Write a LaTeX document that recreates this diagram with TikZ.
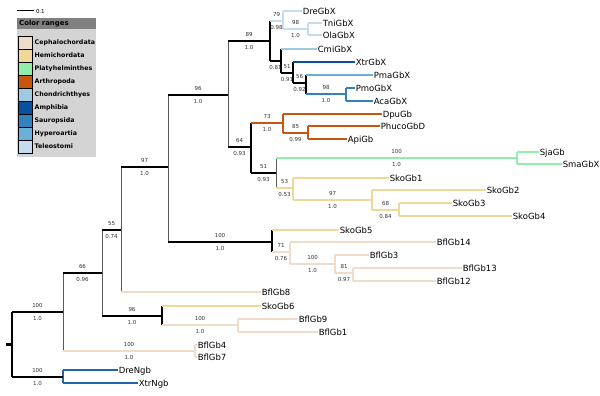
\documentclass[tikz,border=0pt]{standalone}
\usepackage{fontspec}
\setmainfont{DejaVu Sans}
\usetikzlibrary{calc}
\definecolor{ceph}{HTML}{EFDCC9}
\definecolor{hemi}{HTML}{EFD898}
\definecolor{platy}{HTML}{90EEA8}
\definecolor{arth}{HTML}{C8560F}
\definecolor{chon}{HTML}{9ECAE1}
\definecolor{amph}{HTML}{08519C}
\definecolor{saur}{HTML}{3182BD}
\definecolor{hyper}{HTML}{6BAED6}
\definecolor{tele}{HTML}{C6DBEF}
\definecolor{ngb}{HTML}{2166AC}
\definecolor{leghead}{HTML}{808080}
\definecolor{legbody}{HTML}{D4D4D4}
\begin{document}
\begin{tikzpicture}[x=1pt,y=-1pt,
  br/.style={line width=2.5pt},
  blk/.style={br,draw=black},
  thinv/.style={line width=0.8pt,draw=black!65},
  cCeph/.style={br,draw=ceph},
  cHemi/.style={br,draw=hemi},
  cPlaty/.style={br,draw=platy},
  cArth/.style={br,draw=arth},
  cChon/.style={br,draw=chon},
  cAmph/.style={br,draw=amph},
  cSaur/.style={br,draw=saur},
  cHyper/.style={br,draw=hyper},
  cTele/.style={br,draw=tele},
  cNgb/.style={br,draw=ngb},
  tipl/.style={anchor=west,inner sep=0.6pt,font=\fontsize{8.5}{10}\selectfont,text height=6.2pt,text depth=0pt},
  supA/.style={anchor=south,yshift=3.1pt,inner sep=0pt,font=\fontsize{5.5}{6.5}\selectfont,text=black!80,text height=4pt,text depth=0pt},
  supB/.style={anchor=north,yshift=-3.1pt,inner sep=0pt,font=\fontsize{5.5}{6.5}\selectfont,text=black!80,text height=4pt,text depth=0pt},
  legt/.style={anchor=west,inner sep=0pt,font=\bfseries\fontsize{6.3}{7}\selectfont,text height=4.6pt,text depth=0pt}
]
\useasboundingbox (0,0) rectangle (600,396);

% ---------- scale bar ----------
\coordinate (sb1) at (17,11);
\coordinate (sb2) at (34,11);
\draw[line width=1pt] (sb1) -- (sb2) node[anchor=west,inner sep=1.5pt,font=\fontsize{5.5}{6.5}\selectfont] (sbl) {0.1};

% ---------- legend ----------
\fill[leghead] (17,18) rectangle (96,29);
\fill[legbody] (17,29) rectangle (96,157);
\node[legt,font=\bfseries\fontsize{6.9}{8}\selectfont] (lgh) at (19,23.5) {Color ranges};
\foreach \n/\c [count=\i from 0] in {Cephalochordata/ceph,Hemichordata/hemi,Platyhelminthes/platy,Arthropoda/arth,Chondrichthyes/chon,Amphibia/amph,Sauropsida/saur,Hyperoartia/hyper,Teleostomi/tele}{
  \filldraw[fill=\c,draw=black,line width=0.6pt] (18,{36+13*\i}) rectangle (32,{49+13*\i});
  \node[legt] (lg\i) at (34.5,{42.5+13*\i}) {\n};
}

% ---------- internal nodes ----------
\coordinate (R) at (12,344.5);
\coordinate (A) at (63,312);
\coordinate (X) at (63,377);
\coordinate (B) at (102,273);
\coordinate (K) at (195,351);
\coordinate (C) at (121,230);
\coordinate (L) at (162,316);
\coordinate (D) at (168,167);
\coordinate (E) at (228,95);
\coordinate (S) at (272,242);
\coordinate (F) at (270,41);
\coordinate (M) at (251,147);
\coordinate (G) at (283,21);
\coordinate (G2) at (308,29);
\coordinate (H) at (281,61);
\coordinate (I) at (293,73);
\coordinate (J) at (306,83);
\coordinate (J2) at (346,94);
\coordinate (N) at (283,123);
\coordinate (N2) at (308,133);
\coordinate (O) at (276,173);
\coordinate (P) at (517,158);
\coordinate (Q) at (293,188);
\coordinate (Q2) at (372,200);
\coordinate (Q3) at (399,210);
\coordinate (T) at (290,252);
\coordinate (U) at (335,264);
\coordinate (V) at (353,273);
\coordinate (W) at (238,325);
\coordinate (Rs) at (6,344.5);

% ---------- tips ----------
\node[tipl] (DreGbX) at (302,11) {DreGbX};
\node[tipl] (TniGbX) at (322,23) {TniGbX};
\node[tipl] (OlaGbX) at (322,35) {OlaGbX};
\node[tipl] (CmiGbX) at (317,49) {CmiGbX};
\node[tipl] (XtrGbX) at (355,62) {XtrGbX};
\node[tipl] (PmaGbX) at (373,75) {PmaGbX};
\node[tipl] (PmoGbX) at (355,88) {PmoGbX};
\node[tipl] (AcaGbX) at (373,101) {AcaGbX};
\node[tipl] (DpuGb) at (382,114) {DpuGb};
\node[tipl] (PhucoGbD) at (380,126) {PhucoGbD};
\node[tipl] (ApiGb) at (347,139) {ApiGb};
\node[tipl] (SjaGb) at (539,152) {SjaGb};
\node[tipl] (SmaGbX) at (562,164) {SmaGbX};
\node[tipl] (SkoGb1) at (389,178) {SkoGb1};
\node[tipl] (SkoGb2) at (486,190) {SkoGb2};
\node[tipl] (SkoGb3) at (452,203) {SkoGb3};
\node[tipl] (SkoGb4) at (512,216) {SkoGb4};
\node[tipl] (SkoGb5) at (339,230) {SkoGb5};
\node[tipl] (BflGb14) at (436,242) {BflGb14};
\node[tipl] (BflGb3) at (369,255) {BflGb3};
\node[tipl] (BflGb13) at (462,268) {BflGb13};
\node[tipl] (BflGb12) at (436,281) {BflGb12};
\node[tipl] (BflGb8) at (261,292) {BflGb8};
\node[tipl] (SkoGb6) at (261,306) {SkoGb6};
\node[tipl] (BflGb9) at (298,319) {BflGb9};
\node[tipl] (BflGb1) at (318,332) {BflGb1};
\node[tipl] (BflGb4) at (197,345) {BflGb4};
\node[tipl] (BflGb7) at (197,357) {BflGb7};
\node[tipl] (DreNgb) at (118,370) {DreNgb};
\node[tipl] (XtrNgb) at (138,383) {XtrNgb};

% ---------- vertical lines ----------
\draw[blk] (R |- A) -- (R |- X);
\draw[thinv] (A |- B) -- (A |- K);
\draw[cNgb] (X |- DreNgb.west) -- (X |- XtrNgb.west);
\draw[thinv] (B |- C) -- (B |- L);
\draw[cCeph] (K |- BflGb4.west) -- (K |- BflGb7.west);
\draw[thinv] (C |- D) -- (C |- BflGb8.west);
\draw[blk] (L |- SkoGb6.west) -- (L |- W);
\draw[cCeph] (W |- BflGb9.west) -- (W |- BflGb1.west);
\draw[thinv] (D |- E) -- (D |- S);
\draw[thinv] (E |- F) -- (E |- M);
\draw[blk] (F |- G) -- (F |- H);
\draw[cTele] (G |- DreGbX.west) -- (G |- G2);
\draw[cTele] (G2 |- TniGbX.west) -- (G2 |- OlaGbX.west);
\draw[blk] (H |- CmiGbX.west) -- (H |- I);
\draw[blk] (I |- XtrGbX.west) -- (I |- J);
\draw[blk] (J |- PmaGbX.west) -- (J |- J2);
\draw[cSaur] (J2 |- PmoGbX.west) -- (J2 |- AcaGbX.west);
\draw[blk] (M |- N) -- (M |- O);
\draw[cArth] (N |- DpuGb.west) -- (N |- N2);
\draw[cArth] (N2 |- PhucoGbD.west) -- (N2 |- ApiGb.west);
\draw[thinv] (O |- P) -- (O |- Q);
\draw[cPlaty] (P |- SjaGb.west) -- (P |- SmaGbX.west);
\draw[cHemi] (Q |- SkoGb1.west) -- (Q |- Q2);
\draw[cHemi] (Q2 |- SkoGb2.west) -- (Q2 |- Q3);
\draw[cHemi] (Q3 |- SkoGb3.west) -- (Q3 |- SkoGb4.west);
\draw[blk] (S |- SkoGb5.west) -- (S |- T);
\draw[cCeph] (T |- BflGb14.west) -- (T |- U);
\draw[cCeph] (U |- BflGb3.west) -- (U |- V);
\draw[cCeph] (V |- BflGb13.west) -- (V |- BflGb12.west);

% ---------- horizontal branches ----------
\draw[blk] (Rs) -- (R);
\draw[blk] (R |- A) -- node[supA]{100} node[supB]{1.0} (A);
\draw[blk] (R |- X) -- node[supA]{100} node[supB]{1.0} (X);
\draw[cNgb] (X |- DreNgb.west) -- (DreNgb.west);
\draw[cNgb] (X |- XtrNgb.west) -- (XtrNgb.west);
\draw[blk] (A |- B) -- node[supA]{66} node[supB]{0.96} (B);
\draw[cCeph] (A |- K) -- node[supA]{100} node[supB]{1.0} (K);
\draw[cCeph] (K |- BflGb4.west) -- (BflGb4.west);
\draw[cCeph] (K |- BflGb7.west) -- (BflGb7.west);
\draw[blk] (B |- C) -- node[supA]{55} node[supB]{0.74} (C);
\draw[blk] (B |- L) -- node[supA]{96} node[supB]{1.0} (L);
\draw[cHemi] (L |- SkoGb6.west) -- (SkoGb6.west);
\draw[cCeph] (L |- W) -- node[supA]{100} node[supB]{1.0} (W);
\draw[cCeph] (W |- BflGb9.west) -- (BflGb9.west);
\draw[cCeph] (W |- BflGb1.west) -- (BflGb1.west);
\draw[blk] (C |- D) -- node[supA]{97} node[supB]{1.0} (D);
\draw[cCeph] (C |- BflGb8.west) -- (BflGb8.west);
\draw[blk] (D |- E) -- node[supA]{96} node[supB]{1.0} (E);
\draw[blk] (D |- S) -- node[supA]{100} node[supB]{1.0} (S);
\draw[blk] (E |- F) -- node[supA]{89} node[supB]{1.0} (F);
\draw[blk] (E |- M) -- node[supA]{64} node[supB]{0.93} (M);
\draw[cTele] (F |- G) -- node[supA]{79} node[supB]{0.98} (G);
\draw[blk] (F |- H) -- node[supB]{0.81} (H);
\draw[cTele] (G |- DreGbX.west) -- (DreGbX.west);
\draw[cTele] (G |- G2) -- node[supA]{98} node[supB]{1.0} (G2);
\draw[cTele] (G2 |- TniGbX.west) -- (TniGbX.west);
\draw[cTele] (G2 |- OlaGbX.west) -- (OlaGbX.west);
\draw[cChon] (H |- CmiGbX.west) -- (CmiGbX.west);
\draw[blk] (H |- I) -- node[supA]{51} node[supB]{0.91} (I);
\draw[cAmph] (I |- XtrGbX.west) -- (XtrGbX.west);
\draw[blk] (I |- J) -- node[supA]{56} node[supB]{0.92} (J);
\draw[cHyper] (J |- PmaGbX.west) -- (PmaGbX.west);
\draw[cSaur] (J |- J2) -- node[supA]{98} node[supB]{1.0} (J2);
\draw[cSaur] (J2 |- PmoGbX.west) -- (PmoGbX.west);
\draw[cSaur] (J2 |- AcaGbX.west) -- (AcaGbX.west);
\draw[cArth] (M |- N) -- node[supA]{73} node[supB]{1.0} (N);
\draw[blk] (M |- O) -- node[supA]{51} node[supB]{0.93} (O);
\draw[cArth] (N |- DpuGb.west) -- (DpuGb.west);
\draw[cArth] (N |- N2) -- node[supA]{85} node[supB]{0.99} (N2);
\draw[cArth] (N2 |- PhucoGbD.west) -- (PhucoGbD.west);
\draw[cArth] (N2 |- ApiGb.west) -- (ApiGb.west);
\draw[cPlaty] (O |- P) -- node[supA]{100} node[supB]{1.0} (P);
\draw[cPlaty] (P |- SjaGb.west) -- (SjaGb.west);
\draw[cPlaty] (P |- SmaGbX.west) -- (SmaGbX.west);
\draw[cHemi] (O |- Q) -- node[supA]{53} node[supB]{0.53} (Q);
\draw[cHemi] (Q |- SkoGb1.west) -- (SkoGb1.west);
\draw[cHemi] (Q |- Q2) -- node[supA]{97} node[supB]{1.0} (Q2);
\draw[cHemi] (Q2 |- SkoGb2.west) -- (SkoGb2.west);
\draw[cHemi] (Q2 |- Q3) -- node[supA]{68} node[supB]{0.84} (Q3);
\draw[cHemi] (Q3 |- SkoGb3.west) -- (SkoGb3.west);
\draw[cHemi] (Q3 |- SkoGb4.west) -- (SkoGb4.west);
\draw[cHemi] (S |- SkoGb5.west) -- (SkoGb5.west);
\draw[cCeph] (S |- T) -- node[supA]{71} node[supB]{0.76} (T);
\draw[cCeph] (T |- BflGb14.west) -- (BflGb14.west);
\draw[cCeph] (T |- U) -- node[supA]{100} node[supB]{1.0} (U);
\draw[cCeph] (U |- BflGb3.west) -- (BflGb3.west);
\draw[cCeph] (U |- V) -- node[supA]{81} node[supB]{0.97} (V);
\draw[cCeph] (V |- BflGb13.west) -- (BflGb13.west);
\draw[cCeph] (V |- BflGb12.west) -- (BflGb12.west);
\end{tikzpicture}
\end{document}
